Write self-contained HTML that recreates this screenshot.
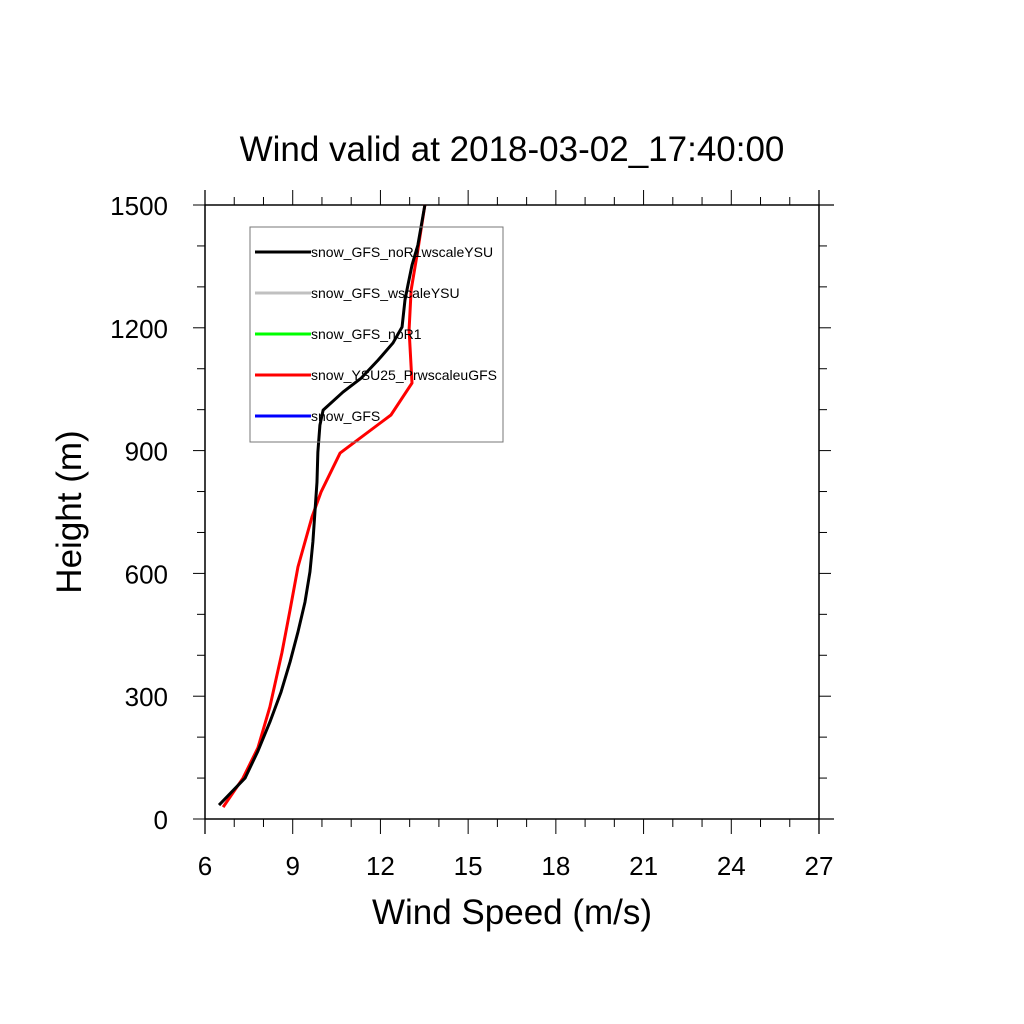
<!DOCTYPE html>
<html><head><meta charset="utf-8"><style>
body{margin:0;background:#fff}
svg{display:block;font-family:"Liberation Sans",sans-serif}
</style></head><body>
<svg id="chart" width="1024" height="1024" viewBox="0 0 1024 1024">
<rect width="1024" height="1024" fill="#fff"/>
<text x="512" y="161" font-size="35" text-anchor="middle">Wind valid at 2018-03-02_17:40:00</text>
<text x="512" y="924" font-size="35" text-anchor="middle">Wind Speed (m/s)</text>
<text transform="translate(81,512) rotate(-90)" font-size="35" text-anchor="middle">Height (m)</text>
<g id="axes"></g>
<g id="series"></g>
<g id="legend"></g>
</svg>
<script>
const xTicks=[6,9,12,15,18,21,24,27];
const yTicks=[0,300,600,900,1200,1500];
const seriesNames=["snow_GFS_noR1wscaleYSU","snow_GFS_wscaleYSU","snow_GFS_noR1","snow_YSU25_PrwscaleuGFS","snow_GFS"];
const seriesColors=["#000000","#c0c0c0","#00ff00","#ff0000","#0000ff"];
const redSpeed=[6.62,7.30,7.81,8.22,8.63,8.91,9.18,9.66,9.97,10.62,12.36,13.08,12.98,13.05,13.28,13.52];
const redHeight=[29,100,174,274,406,511,616,738,799,894,987,1065,1195,1292,1390,1500];
const blackSpeed=[6.48,7.37,7.81,8.22,8.60,8.91,9.18,9.42,9.59,9.69,9.76,9.83,9.86,9.93,10.04,10.72,11.34,11.92,12.43,12.74,12.84,12.94,13.08,13.28,13.52];
const blackHeight=[34,100,166,237,310,384,457,530,604,677,750,823,896,962,999,1043,1077,1121,1163,1202,1268,1304,1353,1402,1500];

const X0=205,X1=819,Y0=819,Y1=205,xmin=6,xmax=27,ymin=0,ymax=1500;
const sx=v=>X0+(v-xmin)/(xmax-xmin)*(X1-X0);
const sy=v=>Y0-(v-ymin)/(ymax-ymin)*(Y0-Y1);
const NS="http://www.w3.org/2000/svg";
function mk(tag,attrs,parent){const e=document.createElementNS(NS,tag);for(const k in attrs)e.setAttribute(k,attrs[k]);parent.appendChild(e);return e;}
const axes=document.getElementById('axes');
let fr=mk('rect',{x:X0,y:Y1,width:X1-X0,height:Y0-Y1,fill:'none',stroke:'#000','stroke-width':1.3},axes);


mk('line',{x1:X0,y1:Y1,x2:X1+15,y2:Y1,stroke:'#000','stroke-width':1.3},axes);
mk('line',{x1:X0,y1:Y0,x2:X1+15,y2:Y0,stroke:'#000','stroke-width':1.3},axes);
mk('line',{x1:X1,y1:Y1-15,x2:X1,y2:Y0+15,stroke:'#000','stroke-width':1.3},axes);
mk('line',{x1:X0,y1:Y1-15,x2:X0,y2:Y0+15,stroke:'#000','stroke-width':1.3},axes);
for(let v=xmin;v<=xmax;v++){
  const maj=(v-xmin)%3===0,L=maj?15:8,x=sx(v);
  mk('line',{x1:x,y1:Y0,x2:x,y2:Y0+L,stroke:'#000','stroke-width':1},axes);
  mk('line',{x1:x,y1:Y1,x2:x,y2:Y1-L,stroke:'#000','stroke-width':1},axes);
}
for(let v=ymin;v<=ymax;v+=100){
  const maj=v%300===0,L=maj?12:8,y=sy(v);
  mk('line',{x1:X0,y1:y,x2:X0-L,y2:y,stroke:'#000','stroke-width':1},axes);
  mk('line',{x1:X1,y1:y,x2:X1+L,y2:y,stroke:'#000','stroke-width':1},axes);
}
xTicks.forEach(v=>{
  const t=mk('text',{x:sx(v),y:Y0+56,'font-size':26,'text-anchor':'middle'},axes);
  t.textContent=v;
  
  
});
yTicks.forEach(v=>{
  const t=mk('text',{x:X0-37,y:sy(v)+10,'font-size':26,'text-anchor':'end'},axes);
  t.textContent=v;
  
  
});
const ser=document.getElementById('series');
function line(sp,ht,col,name){
  const p=mk('polyline',{points:sp.map((s,i)=>sx(s)+','+sy(ht[i])).join(' '),fill:'none',stroke:col,'stroke-width':3,'stroke-linejoin':'round'},ser);
  
  
}
line(redSpeed,redHeight,'#ff0000','series-snow-ysu25-prwscaleugfs');
line(blackSpeed,blackHeight,'#000000','series-snow-gfs-nor1wscaleysu');
const lg=document.getElementById('legend');
const box=mk('rect',{x:250,y:227,width:253,height:215,fill:'none',stroke:'#777','stroke-width':1},lg);


seriesNames.forEach((n,i)=>{
  const y=252+i*41;
  const l=mk('line',{x1:255,y1:y,x2:311,y2:y,stroke:seriesColors[i],'stroke-width':3},lg);
  
  
  const t=mk('text',{x:311,y:y+5,'font-size':14},lg);
  t.textContent=n;
  
  
});
</script>
</body></html>
